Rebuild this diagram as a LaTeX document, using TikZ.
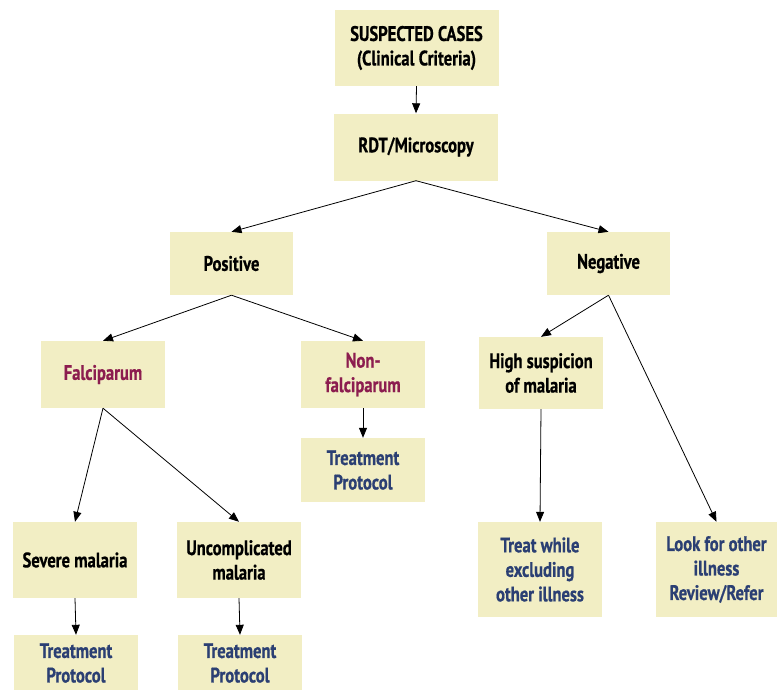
\documentclass[tikz,border=0pt]{standalone}
\usepackage{fontspec}
\setmainfont{PT Sans}[FakeStretch=0.79, BoldFeatures={FakeBold=0.6}]
\usetikzlibrary{arrows.meta}
\definecolor{boxfill}{HTML}{F2EEC4}
\definecolor{maroon}{HTML}{8C1D4F}
\definecolor{navy}{HTML}{2B3F73}
\tikzset{
  box/.style={fill=boxfill, draw=none, align=center, inner sep=2pt,
    font=\fontsize{21}{24.5}\selectfont\bfseries, text=black},
  mtext/.style={text=maroon},
  ntext/.style={text=navy},
  conn/.style={draw=black, line width=0.8pt, -{Triangle[length=10pt,width=8pt]}},
}
\begin{document}
\begin{tikzpicture}[x=1pt,y=-1pt]
\useasboundingbox (0,0) rectangle (777,689);
\node[box, minimum width=164pt, minimum height=76pt] (sc) at (416.5,48) {SUSPECTED CASES\\(Clinical Criteria)};
\node[box, minimum width=164pt, minimum height=67pt] (rdt) at (416,147) {RDT/Microscopy};
\node[box, minimum width=123pt, minimum height=63pt] (pos) at (231.5,263.5) {Positive};
\node[box, minimum width=123pt, minimum height=63pt] (neg) at (608.5,263.5) {Negative};
\node[box, mtext, minimum width=124pt, minimum height=67pt] (fal) at (103,374.5) {Falciparum};
\node[box, mtext, minimum width=124pt, minimum height=67pt] (nonf) at (363,374.5) {Non-\\falciparum};
\node[box, ntext, minimum width=124pt, minimum height=64pt] (tp1) at (363,470) {Treatment\\Protocol};
\node[box, minimum width=124pt, minimum height=76pt] (sev) at (75,560) {Severe malaria};
\node[box, minimum width=124pt, minimum height=76pt] (unc) at (239,560) {Uncomplicated\\malaria};
\node[box, ntext, minimum width=124pt, minimum height=56pt] (tp2) at (76,663) {Treatment\\Protocol};
\node[box, ntext, minimum width=124pt, minimum height=56pt] (tp3) at (240,663) {Treatment\\Protocol};
\node[box, minimum width=124pt, minimum height=72pt] (hs) at (541,373) {High suspicion\\of malaria};
\node[box, ntext, minimum width=124pt, minimum height=95pt] (tw) at (540,569.5) {Treat while\\excluding\\other illness};
\node[box, ntext, minimum width=122pt, minimum height=95pt] (lf) at (716.5,569.5) {Look for other\\illness\\Review/Refer};
\draw[conn] (sc.south) -- (rdt.north);
\draw[conn] (rdt.south) -- (pos.north);
\draw[conn] (rdt.south) -- (neg.north);
\draw[conn] (pos.south) -- (fal.north);
\draw[conn] (pos.south) -- (nonf.north);
\draw[conn] (fal.south) -- (sev.north);
\draw[conn] (fal.south) -- (unc.north);
\draw[conn] (nonf.south) -- (tp1.north);
\draw[conn] (sev.south) -- (tp2.north);
\draw[conn] (unc.south) -- (tp3.north);
\draw[conn] (neg.south) -- (hs.north);
\draw[conn] (neg.south) -- (lf.north);
\draw[conn] (hs.south) -- (tw.north);
\end{tikzpicture}
\end{document}
